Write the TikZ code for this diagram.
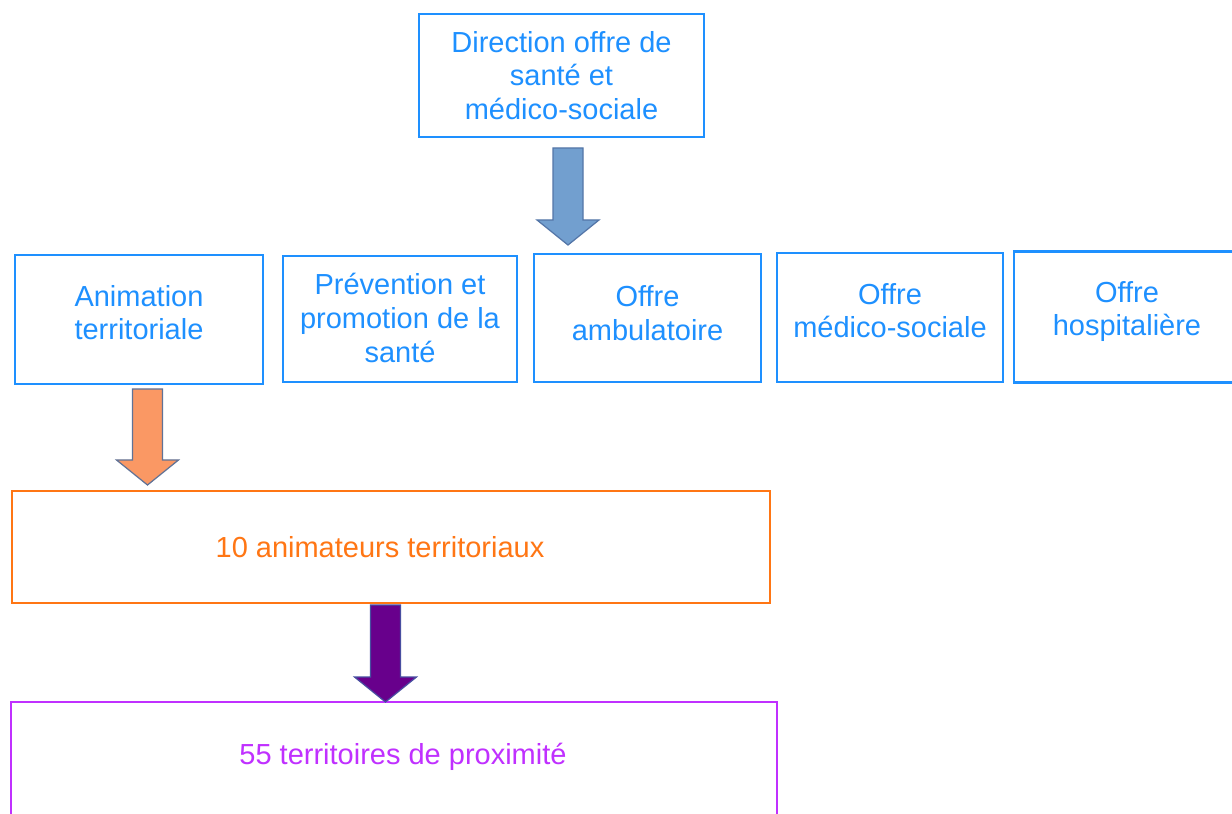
\documentclass[tikz,border=0pt]{standalone}
\usepackage{fontspec}
\setmainfont{Liberation Sans}
\usetikzlibrary{calc}

\definecolor{boxblue}{RGB}{30,144,255}
\definecolor{arrblue}{RGB}{114,159,207}
\definecolor{arrblueline}{RGB}{84,118,168}
\definecolor{boxorange}{RGB}{255,118,20}
\definecolor{arrorange}{RGB}{250,152,100}
\definecolor{arrslate}{RGB}{96,114,150}
\definecolor{boxpurple}{RGB}{192,48,255}
\definecolor{arrpurple}{RGB}{104,0,140}
\definecolor{arrpurpleline}{RGB}{72,78,160}

\tikzset{
	orgbox/.style={draw=#1, text=#1, line width=1.6pt, fill=white, align=center, inner sep=0pt,
		font=\fontsize{16.5}{19.2}\selectfont},
	rowbox/.style={orgbox=boxblue, text depth=0.28cm}
}

\newcommand{\blockarrow}[4]{\draw [fill=#1, draw=#2, line width=0.7pt, line join=miter]
	($(#3)+(-15,0)$) -- ($(#4)+(-15,-25)$) -- ($(#4)+(-31,-25)$) -- (#4)
	-- ($(#4)+(31,-25)$) -- ($(#4)+(15,-25)$) -- ($(#3)+(15,0)$) -- cycle;}

\begin{document}
\begin{tikzpicture}[x=0.02cm, y=-0.02cm]
	\clip (0,0) rectangle (1232,814);
	\fill [white] (0,0) rectangle (1232,814);

	\node [orgbox=boxblue, minimum width=5.7cm, minimum height=2.46cm] (direction) at (561.5,75.5) {Direction offre de\\santé et\\ médico-sociale};

	\node [rowbox, minimum width=4.96cm, minimum height=2.58cm] (animation) at (139,319.5) {Animation\\territoriale};
	\node [rowbox, minimum width=4.68cm, minimum height=2.52cm, text depth=0.04cm] (prevention) at (400,319) {Prévention et\\promotion de la\\santé};
	\node [rowbox, minimum width=4.54cm, minimum height=2.56cm, text depth=0.2cm] (ambulatoire) at (647.5,318) {Offre\\ambulatoire};
	\node [rowbox, minimum width=4.52cm, minimum height=2.58cm] (medicosociale) at (890,317.5) {Offre\\médico-sociale};
	\node [rowbox, minimum width=4.52cm, minimum height=2.62cm, text depth=0.34cm] (hospitaliere) at (1127,317) {Offre\\hospitalière};

	\node [orgbox=boxorange, minimum width=15.16cm, minimum height=2.24cm] (animateurs) at (391,547) {10 animateurs territoriaux\hspace*{0.44cm}};
	\node [orgbox=boxpurple, minimum width=15.32cm, minimum height=2.56cm, text depth=0.5cm] (territoires) at (394,766) {\hspace*{0.36cm}55 territoires de proximité};

	\coordinate (dirout) at (568,148);
	\coordinate (ambin) at (568,245);
	\coordinate (animout) at (147.5,389);
	\coordinate (animin) at (147.5,485);
	\coordinate (terrout) at (385.5,605);
	\coordinate (terrin) at (385.5,702);

	\blockarrow{arrblue}{arrblueline}{dirout}{ambin}
	\blockarrow{arrorange}{arrslate}{animout}{animin}
	\blockarrow{arrpurple}{arrpurpleline}{terrout}{terrin}
\end{tikzpicture}
\end{document}
